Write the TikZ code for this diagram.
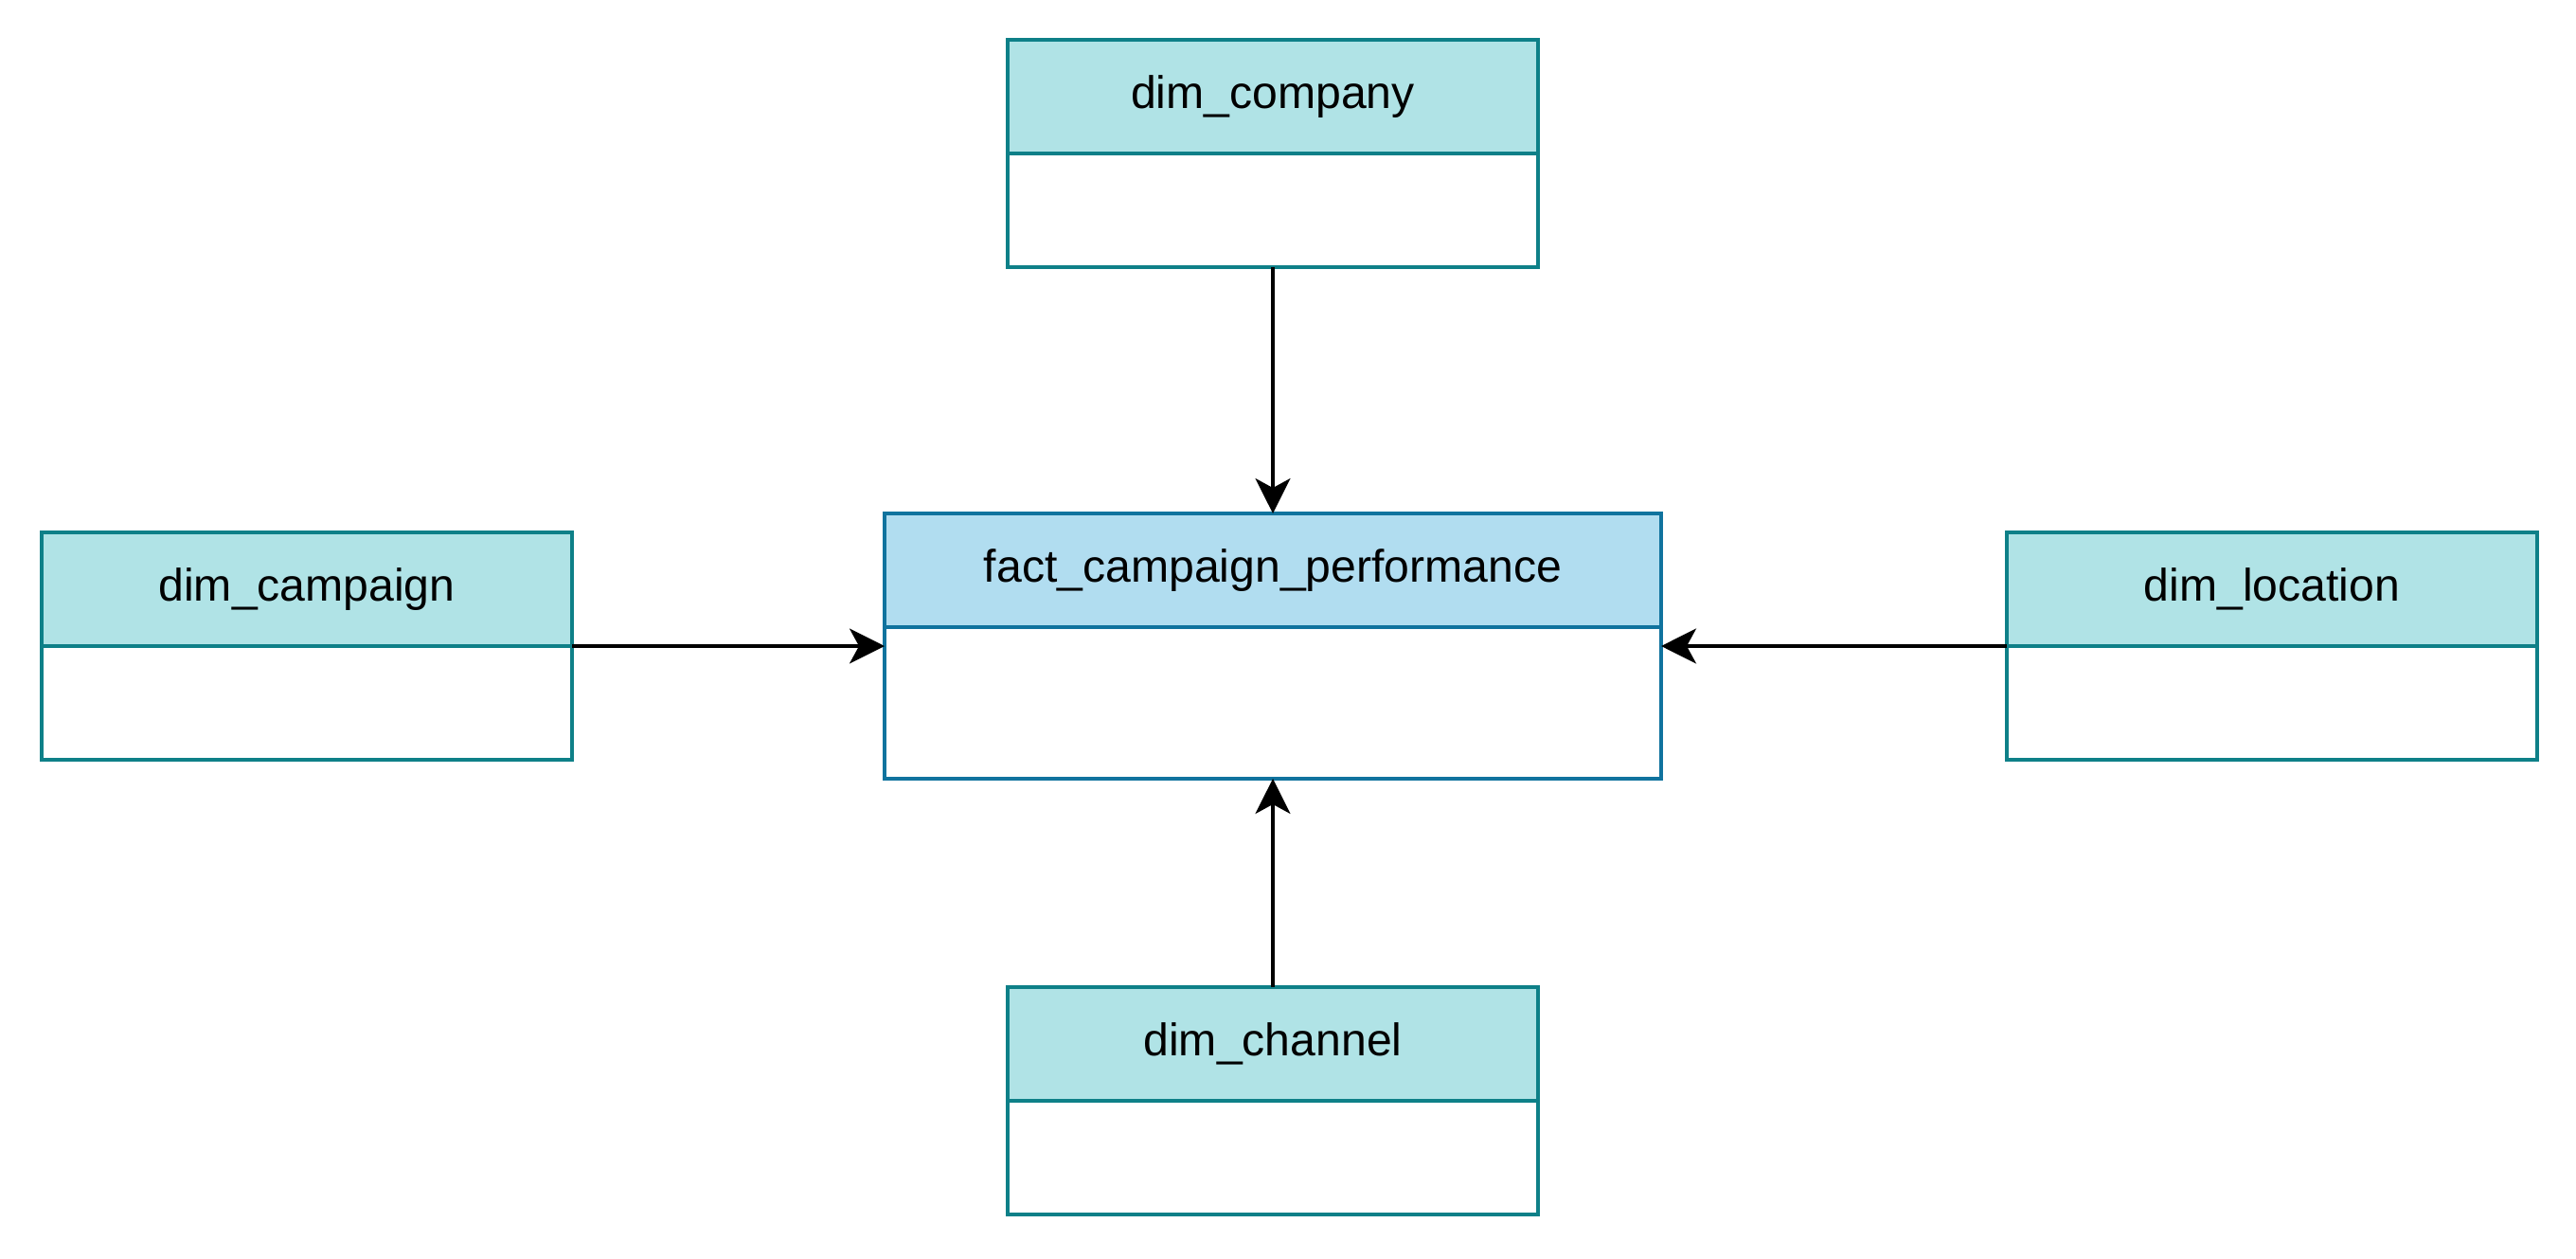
\documentclass[tikz,border=0pt]{standalone}
\usepackage{fontspec}
\setmainfont{Liberation Sans}
\usetikzlibrary{arrows.meta,positioning,calc}
\definecolor{dimfill}{HTML}{B0E3E6}
\definecolor{dimline}{HTML}{0E8088}
\definecolor{factfill}{HTML}{B1DDF0}
\definecolor{factline}{HTML}{10739E}
\tikzset{main base/.style={rectangle,draw,line width=1.1pt,outer sep=0pt,inner sep=0pt,text centered,font=\fontsize{13.7}{16}\selectfont}, }
\tikzset{dim head/.style={main base,draw=dimline,fill=dimfill,minimum width=5.6cm,minimum height=1.2cm}, }
\tikzset{dim body/.style={main base,draw=dimline,fill=white,minimum width=5.6cm,minimum height=1.2cm}, }
\tikzset{fact head/.style={main base,draw=factline,fill=factfill,minimum width=8.2cm,minimum height=1.2cm}, }
\tikzset{fact body/.style={main base,draw=factline,fill=white,minimum width=8.2cm,minimum height=1.6cm}, }
\tikzset{linea/.style={-{Stealth[length=0.37cm,width=0.37cm,inset=0.1cm]},line width=0.95pt,draw}}
\begin{document}
\begin{tikzpicture}
\useasboundingbox (0,0) rectangle (27.2,-13.28);
    \node[fact head] (fact) at (13.44,-6.02) {fact\_campaign\_performance};
    \node[fact body] (factbody) [below=0pt of fact] {};
    \node[dim body] (companybody) [above=2.6cm of fact] {};
    \node[dim head] (company) [above=0pt of companybody] {dim\_company};
    \node[dim head] (campaign) [left=3.3cm of fact, yshift=-2mm] {dim\_campaign};
    \node[dim body] (campaignbody) [below=0pt of campaign] {};
    \node[dim head] (location) [right=3.65cm of fact, yshift=-2mm] {dim\_location};
    \node[dim body] (locationbody) [below=0pt of location] {};
    \node[dim head] (channel) [below=2.2cm of factbody] {dim\_channel};
    \node[dim body] (channelbody) [below=0pt of channel] {};

\foreach \x /\y in{companybody/fact,channel/factbody}
  \path[linea] (\x) edge node {} (\y);
\draw[linea] (campaign.south east) -- (campaign.south east -| factbody.west);
\draw[linea] (location.south west) -- (location.south west -| factbody.east);
%
\end{tikzpicture}
\end{document}
